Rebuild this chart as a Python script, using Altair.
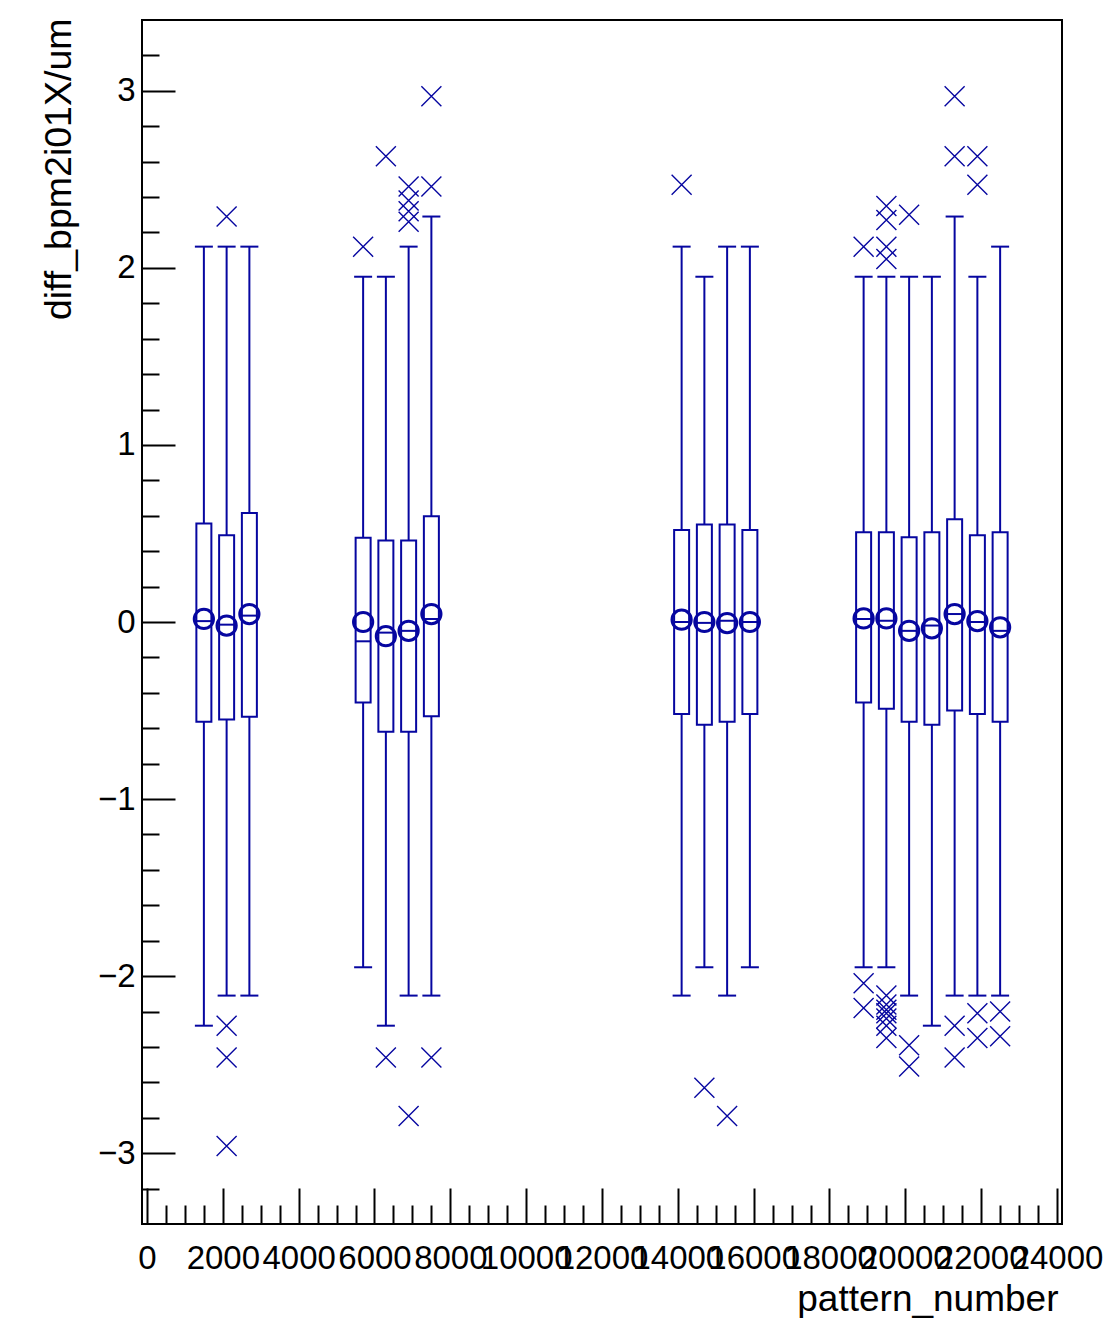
import altair as alt
import pandas as pd

# ---- data ----
pattern = [1500, 2100, 2700, 5700, 6300, 6900, 7500, 14100, 14700, 15300, 15900,
           18900, 19500, 20100, 20700, 21300, 21900, 22500]
whisker_low = [-2.28, -2.11, -2.11, -1.95, -2.28, -2.11, -2.11, -2.11, -1.95, -2.11, -1.95,
               -1.95, -1.95, -2.11, -2.28, -2.11, -2.11, -2.11]
q1 = [-0.563, -0.55, -0.535, -0.454, -0.62, -0.62, -0.533, -0.52, -0.58, -0.563, -0.52,
      -0.454, -0.49, -0.563, -0.58, -0.50, -0.52, -0.563]
median = [0.005, -0.015, 0.036, -0.109, -0.06, -0.05, 0.017, 0.0, -0.005, 0.007, 0.0,
          0.017, 0.007, -0.05, -0.02, 0.045, 0.0, -0.05]
q3 = [0.557, 0.49, 0.616, 0.476, 0.46, 0.46, 0.597, 0.52, 0.55, 0.55, 0.52,
      0.507, 0.507, 0.478, 0.507, 0.58, 0.49, 0.507]
whisker_high = [2.12, 2.12, 2.12, 1.95, 1.95, 2.12, 2.29, 2.12, 1.95, 2.12, 2.12,
                1.95, 1.95, 1.95, 1.95, 2.29, 1.95, 2.12]
mean = [0.017, -0.02, 0.045, 0.0, -0.08, -0.05, 0.045, 0.013, 0.0, -0.006, 0.0,
        0.02, 0.02, -0.05, -0.036, 0.045, 0.005, -0.03]

outlier_box = [2, 2, 2, 2,
               4,
               5, 5,
               6, 6, 6, 6, 6,
               7, 7, 7,
               8, 9, 10,
               12, 12, 12,
               13, 13, 13, 13, 13, 13, 13, 13, 13, 13, 13,
               14, 14, 14,
               16, 16, 16, 16,
               17, 17, 17, 17,
               18, 18]
outlier_value = [2.29, -2.28, -2.46, -2.96,
                 2.12,
                 2.63, -2.46,
                 2.46, 2.38, 2.32, 2.26, -2.79,
                 2.97, 2.46, -2.46,
                 2.47, -2.63, -2.79,
                 2.12, -2.04, -2.18,
                 2.35, 2.27, 2.12, 2.05, -2.11, -2.16, -2.19, -2.21, -2.24, -2.28, -2.35,
                 2.30, -2.39, -2.51,
                 2.97, 2.63, -2.28, -2.46,
                 2.63, 2.47, -2.21, -2.35,
                 -2.20, -2.34]

y_major = [-3, -2, -1, 0, 1, 2, 3]
y_minor = [round(k * 0.2, 1) for k in range(-16, 17) if k % 5 != 0]
x_major = list(range(0, 24001, 2000))
x_minor = [v for v in range(0, 24001, 500) if v % 2000 != 0]

boxes = pd.DataFrame({
    "pattern": pattern, "wlo": whisker_low, "q1": q1, "med": median,
    "q3": q3, "whi": whisker_high, "mean": mean,
})
outliers = pd.DataFrame({
    "pattern": [pattern[i - 1] for i in outlier_box],
    "value": outlier_value,
})

COLOR = "#0606a0"
FONT = "Liberation Sans"
xs = alt.Scale(domain=[0, 24000], nice=False, zero=False)
ys = alt.Scale(domain=[-3.4, 3.4], nice=False, zero=False)

def X(field="pattern", axis=None):
    return alt.X(field, type="quantitative", scale=xs, axis=axis)

def Y(field, axis=None):
    return alt.Y(field, type="quantitative", scale=ys, axis=axis)

base = alt.Chart(boxes)

whisk = base.mark_rule(color=COLOR, strokeWidth=2).encode(x=X(), y=Y("wlo"), y2="whi")
cap_hi = base.mark_tick(orient="horizontal", size=18, thickness=2, color=COLOR, opacity=1).encode(x=X(), y=Y("whi"))
cap_lo = base.mark_tick(orient="horizontal", size=18, thickness=2, color=COLOR, opacity=1).encode(x=X(), y=Y("wlo"))
box = base.mark_bar(width=15, orient="vertical", fill="white", stroke=COLOR, strokeWidth=2).encode(
    x=X(), y=Y("q1"), y2="q3")
med = base.mark_tick(orient="horizontal", size=16, thickness=2, color=COLOR, opacity=1).encode(x=X(), y=Y("med"))
mean_pt = base.mark_point(shape="circle", size=370, filled=False, color=COLOR, strokeWidth=3, opacity=1).encode(
    x=X(), y=Y("mean"))
outl = alt.Chart(outliers).mark_point(
    shape="M-1,-1L1,1M1,-1L-1,1", size=400, filled=False, color=COLOR, strokeWidth=1.4, opacity=1
).encode(x=X(), y=Y("value"))

# axis carriers (invisible marks)
major_axes = base.mark_point(opacity=0).encode(
    x=X(axis=alt.Axis(orient="bottom", values=x_major, format="d", offset=-36, tickSize=36,
                      tickWidth=2, tickColor="black", domain=False, grid=False,
                      labelFontSize=33, labelFont=FONT, labelColor="black", labelPadding=18,
                      labelOverlap=False, labelFlush=False,
                      title="pattern_number", titleFont=FONT, titleFontSize=37,
                      titleFontWeight="normal", titleColor="black",
                      titleAlign="right", titleBaseline="middle", titleX=916, titleY=111)),
    y=Y("med", axis=alt.Axis(orient="left", values=y_major, format="d", offset=-33, tickSize=33,
                             tickWidth=2, tickColor="black", domain=False, grid=False,
                             labelFontSize=33, labelFont=FONT, labelColor="black", labelPadding=7,
                             labelOverlap=False, labelFlush=False,
                             title="diff_bpm2i01X/um", titleFont=FONT, titleFontSize=37.5,
                             titleFontWeight="normal", titleColor="black", titleAngle=270,
                             titleAlign="right", titleBaseline="middle", titleX=-116, titleY=-2)),
)
minor_axes = base.mark_point(opacity=0).encode(
    x=X(axis=alt.Axis(orient="bottom", values=x_minor, offset=-19, tickSize=19, tickWidth=2,
                      tickColor="black", domain=False, grid=False, labels=False, title=None)),
    y=Y("med", axis=alt.Axis(orient="left", values=y_minor, offset=-17, tickSize=17, tickWidth=2,
                             tickColor="black", domain=False, grid=False, labels=False, title=None)),
)

chart = alt.layer(
    whisk, cap_hi, cap_lo, box, med, mean_pt, outl, major_axes, minor_axes
).resolve_axis(x="independent", y="independent").properties(
    width=920, height=1204,
    background="white",
    autosize=alt.AutoSizeParams(type="none"),
    padding={"left": 134, "top": 12, "right": 44, "bottom": 94},
).configure_view(stroke="black", strokeWidth=2)

chart.save("out.html", embed_options={"renderer": "svg", "actions": False})
